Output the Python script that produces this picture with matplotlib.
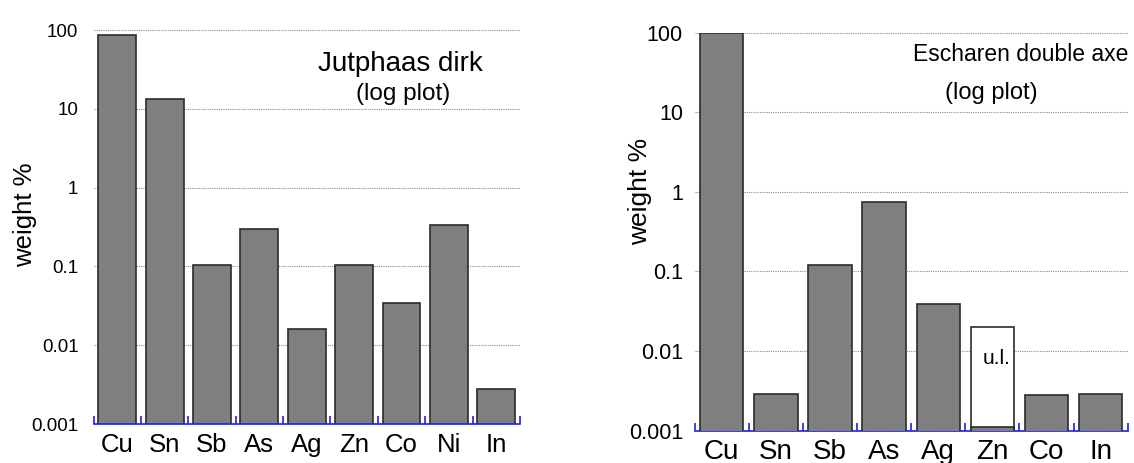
import numpy as np
import matplotlib
matplotlib.use('Agg')
import matplotlib.pyplot as plt
from matplotlib.ticker import FixedLocator, NullFormatter

plt.rcParams['font.family'] = ['Liberation Sans', 'DejaVu Sans']

# left panel: Jutphaas dirk
jut_elements = ['Cu', 'Sn', 'Sb', 'As', 'Ag', 'Zn', 'Co', 'Ni', 'In']
jut_values = [86, 13.4, 0.104, 0.295, 0.0159, 0.104, 0.0347, 0.335, 0.0028]

# right panel: Escharen double axe
esc_elements = ['Cu', 'Sn', 'Sb', 'As', 'Ag', 'Zn', 'Co', 'In']
esc_values = [100, 0.0029, 0.12, 0.74, 0.039, 0.0011, 0.0028, 0.0029]
esc_upper_limit = {'Zn': 0.02}

y_ticks = [0.001, 0.01, 0.1, 1, 10, 100]
y_ticklabels = ['0.001', '0.01', '0.1', '1', '10', '100']

BAR_COLOR = '#7f7f7f'
EDGE_COLOR = '#2b2b2b'
AXIS_BLUE = '#1f1fe6'


def style_axis(ax, n, minor_steps, tick_fs, tick_pad):
    ax.set_yscale('log')
    ax.set_ylim(0.001, 100)
    ax.set_xlim(-0.5, n - 0.5)
    ax.set_axisbelow(True)
    ax.yaxis.set_major_locator(FixedLocator(y_ticks))
    ax.set_yticklabels(y_ticklabels)
    ax.yaxis.set_minor_locator(FixedLocator([]))
    ax.tick_params(axis='y', length=0, labelsize=tick_fs, pad=tick_pad)
    ax.grid(axis='y', color='#8c8c8c', linestyle=(0, (1, 1)), linewidth=0.8)
    for side in ['left', 'right', 'top']:
        ax.spines[side].set_visible(False)
    ax.spines['bottom'].set_color(AXIS_BLUE)
    ax.spines['bottom'].set_linewidth(1.2)

    bounds = np.arange(n + 1) - 0.5
    minors = [b + k / minor_steps for b in bounds[:-1] for k in range(1, minor_steps)]
    ax.xaxis.set_major_locator(FixedLocator(bounds))
    ax.xaxis.set_major_formatter(NullFormatter())
    ax.xaxis.set_minor_locator(FixedLocator(minors))
    ax.tick_params(axis='x', which='major', direction='in', length=5.5,
                   width=1.2, color=AXIS_BLUE)
    ax.tick_params(axis='x', which='minor', direction='in', length=2.5,
                   width=1.0, color=AXIS_BLUE)


def add_labels(ax, names, fs, offset):
    for i, name in enumerate(names):
        ax.annotate(name, xy=(i, 0), xycoords=('data', 'axes fraction'),
                    xytext=(0, offset), textcoords='offset points',
                    ha='center', va='center', fontsize=fs)


fig = plt.figure(figsize=(11.34, 4.63), dpi=100)

# ---- left ----
ax1 = fig.add_axes([0.0826, 0.0842, 0.3759, 0.8510])
x1 = np.arange(len(jut_elements))
ax1.bar(x1, jut_values, width=0.8, color=BAR_COLOR, edgecolor=EDGE_COLOR,
        linewidth=1.2, zorder=2)
style_axis(ax1, len(jut_elements), 2, 13.5, 11)
add_labels(ax1, jut_elements, 18.5, -15)
ax1.set_ylabel('weight %', fontsize=18.5)
ax1.yaxis.set_label_coords(-0.132, 0.53)
ax1.text(0.7185, 0.914, 'Jutphaas dirk', transform=ax1.transAxes,
         ha='center', va='center', fontsize=20)
ax1.text(0.727, 0.838, '(log plot)', transform=ax1.transAxes,
         ha='center', va='center', fontsize=17.5)

# ---- right ----
ax2 = fig.add_axes([0.6126, 0.0698, 0.3818, 0.8596])
x2 = np.arange(len(esc_elements))
for name, ul in esc_upper_limit.items():
    i = esc_elements.index(name)
    ax2.bar(i, ul, width=0.8, color='white', edgecolor=EDGE_COLOR,
            linewidth=1.2, zorder=2)
    ax2.text(i + 0.07, 0.0080, 'u.l.', ha='center', va='center',
             fontsize=15, zorder=4)
ax2.bar(x2, esc_values, width=0.8, color=BAR_COLOR, edgecolor=EDGE_COLOR,
        linewidth=1.2, zorder=3)
style_axis(ax2, len(esc_elements), 5, 15.5, 8.5)
add_labels(ax2, esc_elements, 20, -15)
ax2.set_ylabel('weight %', fontsize=19)
ax2.yaxis.set_label_coords(-0.099, 0.60)
ax2.text(0.752, 0.946, 'Escharen double axe', transform=ax2.transAxes,
         ha='center', va='center', fontsize=16.5)
ax2.text(0.684, 0.848, '(log plot)', transform=ax2.transAxes,
         ha='center', va='center', fontsize=17)

fig.savefig('out.png', dpi=100)
